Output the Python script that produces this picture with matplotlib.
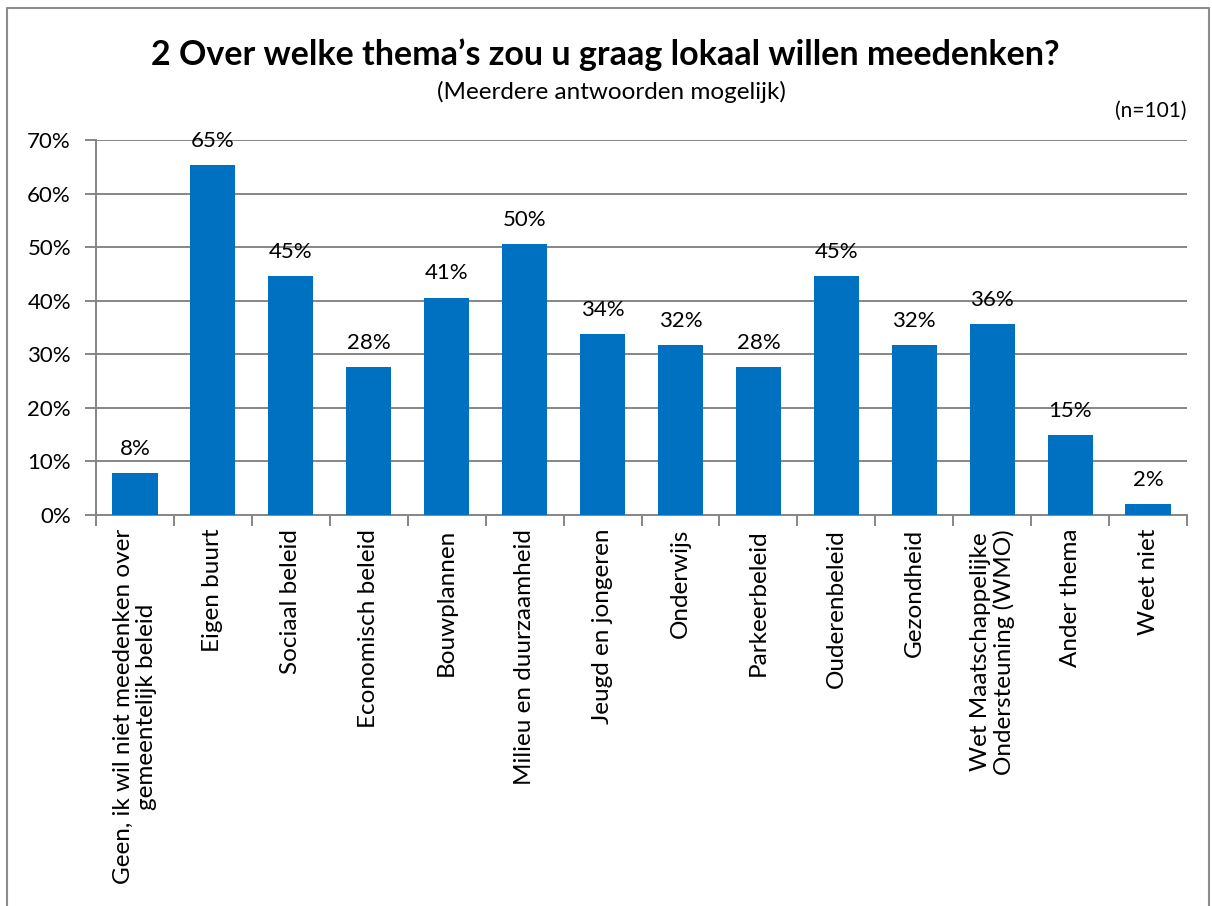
import matplotlib
matplotlib.use("Agg")
import matplotlib.pyplot as plt
from matplotlib.lines import Line2D

plt.rcParams['font.family'] = ['Lato', 'DejaVu Sans']

categories = [
    "Geen, ik wil niet meedenken over\ngemeentelijk beleid",
    "Eigen buurt",
    "Sociaal beleid",
    "Economisch beleid",
    "Bouwplannen",
    "Milieu en duurzaamheid",
    "Jeugd en jongeren",
    "Onderwijs",
    "Parkeerbeleid",
    "Ouderenbeleid",
    "Gezondheid",
    "Wet Maatschappelijke\nOndersteuning (WMO)",
    "Ander thema",
    "Weet niet",
]
values = [7.9, 65.3, 44.6, 27.7, 40.6, 50.5, 33.7, 31.7, 27.7, 44.6, 31.7, 35.6, 14.9, 2.0]
yticks = [0, 10, 20, 30, 40, 50, 60, 70]
title = "2 Over welke thema\u2019s zou u graag lokaal willen meedenken?"
subtitle = "(Meerdere antwoorden mogelijk)"
note = "(n=101)"

W, H = 1212, 906
fig = plt.figure(figsize=(W / 100, H / 100), dpi=100)
ax = fig.add_axes([96 / W, 1 - 515 / H, (1187 - 96) / W, (515 - 140) / H])

grid_col = "#868686"
bar_col = "#0070C0"
x = list(range(len(categories)))
ax.bar(x, values, width=0.58, color=bar_col, zorder=3)
for xi, v in zip(x, values):
    ax.annotate(f"{round(v):d}%", xy=(xi, v), xycoords="data", xytext=(0, 13), textcoords="offset points",
                ha="center", va="baseline", fontsize=16, color="black", zorder=4, annotation_clip=False)

ax.set_xlim(-0.5, len(categories) - 0.5)
ax.set_ylim(0, 70)
ax.set_yticks(yticks)
ax.set_yticklabels([f"{t}%" for t in yticks], fontsize=16)
ax.yaxis.grid(True, color=grid_col, linewidth=1.4, zorder=0)
ax.tick_params(axis="y", length=8, width=1.4, color=grid_col, pad=10)
ax.set_xticks([i - 0.5 for i in range(len(categories) + 1)])
ax.set_xticklabels([])
ax.tick_params(axis="x", length=8, width=1.4, color=grid_col)
for xi, lab in zip(x, categories):
    ax.annotate(lab, xy=(xi, 0), xycoords="data", xytext=(0, -10), textcoords="offset points",
                rotation=90, ha="center", va="top", fontsize=17.5, multialignment="center",
                linespacing=1.1, annotation_clip=False)
for s in ["top", "right"]:
    ax.spines[s].set_visible(False)
for s in ["left", "bottom"]:
    ax.spines[s].set_color(grid_col)
    ax.spines[s].set_linewidth(1.4)

fig.text(605 / W, 1 - 55 / H, title, ha="center", va="center", fontsize=24.5, fontweight="bold")
fig.text(611 / W, 1 - 92 / H, subtitle, ha="center", va="center", fontsize=17.5)
fig.text(1187 / W, 1 - 111 / H, note, ha="right", va="center", fontsize=15)

# outer border
bx0, bx1, by0 = 7 / W, 1209 / W, 1 - 8 / H
fig.add_artist(Line2D([bx0, bx0, bx1, bx1], [0, by0, by0, 0], transform=fig.transFigure,
                      color="#8c8c8c", linewidth=1.5))

fig.savefig("out.png", dpi=100)
